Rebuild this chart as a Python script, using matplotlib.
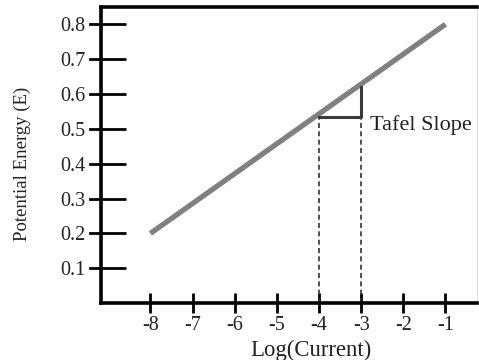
import matplotlib

matplotlib.use("Agg")
import matplotlib.pyplot as plt

# Tafel line: log(current) vs potential
line_x = [-8, -1]
line_y = [0.2, 0.8]

# slope triangle corners between log(i) = -4 and -3
tri_x = [-4, -3, -3]
tri_y = [0.535, 0.535, 0.62]
drop_x = [-4, -3]
drop_top = [0.535, 0.535]

x_ticks = [-8, -7, -6, -5, -4, -3, -2, -1]
y_ticks = [0.1, 0.2, 0.3, 0.4, 0.5, 0.6, 0.7, 0.8]

plt.rcParams["font.family"] = ["Liberation Serif", "DejaVu Serif"]

XMIN, XMAX = -9.17, -0.25

fig = plt.figure(figsize=(4.79, 3.60), dpi=100)
ax = fig.add_axes([0.211, 0.158, 0.785, 0.823])

ax.plot(line_x, line_y, color="#808080", linewidth=3.8, solid_capstyle="butt", zorder=3)
ax.plot(tri_x, tri_y, color="#3a3a3a", linewidth=2.2, zorder=4)
for xv, top in zip(drop_x, drop_top):
    ax.plot([xv, xv], [0, top], color="#333333", linewidth=1.2,
            linestyle=(0, (3, 2)), zorder=2)

ax.text(-2.8, 0.51, "Tafel Slope", fontsize=16, color="#222222",
        ha="left", va="center")

ax.set_xlim(XMIN, XMAX)
ax.set_ylim(0, 0.85)
ax.set_xticks(x_ticks)
ax.set_xticklabels([str(t) for t in x_ticks], fontsize=14.5, color="#222222")
ax.set_yticks(y_ticks)
ax.set_yticklabels([f"{t:.1f}" for t in y_ticks], fontsize=14.5, color="#222222")

ax.tick_params(axis="x", direction="inout", length=14, width=2.0, pad=2)
ax.tick_params(axis="y", direction="in", length=18, width=2.0, pad=11)
# short outward stubs on the y ticks
for yv in y_ticks:
    ax.plot([XMIN - 0.26, XMIN], [yv, yv], color="black", linewidth=2.0,
            clip_on=False, zorder=5)

for side in ("left", "bottom", "top"):
    ax.spines[side].set_linewidth(2.6)
    ax.spines[side].set_color("black")
ax.spines["right"].set_linewidth(0.8)
ax.spines["right"].set_color("#dddddd")

ax.set_xlabel("Log(Current)", fontsize=16.4, color="#222222", va="center")
ax.xaxis.set_label_coords(0.558, -0.16)
ax.set_ylabel("Potential Energy (E)", fontsize=13.5, color="#222222", va="center")
ax.yaxis.set_label_coords(-0.21, 0.47)

fig.savefig("out.png", dpi=100, facecolor="white")
